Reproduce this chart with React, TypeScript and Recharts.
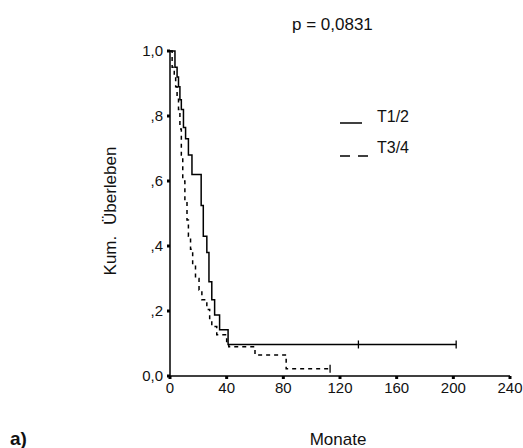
import React from 'react';
import { LineChart, Line, XAxis, YAxis } from 'recharts';

// Kaplan-Meier steps, months -> cumulative survival
const t12Months = [0, 3.5, 5, 6, 7, 8, 9.5, 11, 13, 15.5, 22, 23.5, 26, 27.5, 29.5, 31.5, 35, 41, 133, 202];
const t12Surv = [1, 0.95, 0.92, 0.89, 0.85, 0.82, 0.765, 0.73, 0.68, 0.62, 0.525, 0.43, 0.38, 0.29, 0.235, 0.188, 0.142, 0.097, 0.097, 0.097];
const t12Censored = [133, 202];

const t34Months = [0, 1.5, 3, 4, 5, 6, 7, 8, 9, 10.5, 12, 13, 14.5, 16, 18, 20.5, 22.5, 26, 28, 29.5, 33, 40, 41.5, 60, 82, 113];
const t34Surv = [1, 0.95, 0.92, 0.89, 0.86, 0.82, 0.76, 0.68, 0.6, 0.54, 0.48, 0.43, 0.39, 0.34, 0.3, 0.265, 0.235, 0.205, 0.173, 0.152, 0.127, 0.106, 0.09, 0.065, 0.022, 0.022];
const t34Censored = [113];

const xTicks = [0, 40, 80, 120, 160, 200, 240];
const yTicks = [0, 0.2, 0.4, 0.6, 0.8, 1];

const seriesNames = ['T1/2', 'T3/4'];
const pValueText = 'p = 0,0831';

const FONT = '"Liberation Sans", Arial, sans-serif';

const toRows = (months: number[], surv: number[], censored: number[]) =>
  months.map((m, i) => ({ m, s: surv[i], c: censored.includes(m) }));

const t12 = toRows(t12Months, t12Surv, t12Censored);
const t34 = toRows(t34Months, t34Surv, t34Censored);

const fmtY = (v: number) => {
  if (v === 0) return '0,0';
  if (v === 1) return '1,0';
  return ',' + Math.round(v * 10);
};

function CensorDot(props: any) {
  const { cx, cy, payload, index } = props;
  if (!payload?.c) return <g key={`d${index}`} />;
  return (
    <line key={`d${index}`} x1={cx} x2={cx} y1={cy - 4} y2={cy + 4} stroke="#000" strokeWidth={1.3} />
  );
}

export default function App() {
  const tick = { fontSize: 15, fill: '#111', fontFamily: FONT };
  return (
    <div style={{ position: 'absolute', left: 0, top: 0, width: 523, height: 448, background: '#fff' }}>
      <LineChart width={523} height={448} margin={{ top: 51, right: 13, bottom: 42, left: 110 }}>
        <XAxis
          type="number"
          dataKey="m"
          domain={[0, 240]}
          ticks={xTicks}
          height={30}
          tick={tick}
          tickSize={3}
          tickMargin={3}
          tickLine={{ stroke: '#000', strokeWidth: 3 }}
          axisLine={{ stroke: '#000', strokeWidth: 1.5 }}
          allowDataOverflow
        />
        <YAxis
          type="number"
          dataKey="s"
          domain={[0, 1]}
          ticks={yTicks}
          width={60}
          tick={tick}
          tickSize={3}
          tickMargin={4}
          tickFormatter={fmtY}
          tickLine={{ stroke: '#000', strokeWidth: 3 }}
          axisLine={{ stroke: '#000', strokeWidth: 1.5 }}
        />
        <Line
          data={t12}
          dataKey="s"
          name={seriesNames[0]}
          type="stepAfter"
          stroke="#000"
          strokeWidth={1.5}
          dot={<CensorDot />}
          activeDot={false}
          isAnimationActive={false}
        />
        <Line
          data={t34}
          dataKey="s"
          name={seriesNames[1]}
          type="stepAfter"
          stroke="#000"
          strokeWidth={1.5}
          strokeDasharray="4 4"
          dot={<CensorDot />}
          activeDot={false}
          isAnimationActive={false}
        />
      </LineChart>
      <svg width={523} height={448} style={{ position: 'absolute', left: 0, top: 0, pointerEvents: 'none' }}>
        <text x={292} y={30} fontSize={17} fontFamily={FONT} fill="#111">{pValueText}</text>
        <line x1={340} x2={362} y1={123} y2={123} stroke="#000" strokeWidth={1.5} />
        <text x={377} y={122} fontSize={16} fontFamily={FONT} fill="#111">{seriesNames[0]}</text>
        <line x1={340} x2={368} y1={156} y2={156} stroke="#000" strokeWidth={1.5} strokeDasharray="10 8" />
        <text x={377} y={153} fontSize={16} fontFamily={FONT} fill="#111">{seriesNames[1]}</text>
        <text
          x={116}
          y={211}
          fontSize={17}
          fontFamily={FONT}
          fill="#111"
          textAnchor="middle"
          transform="rotate(-90 116 211)"
          style={{ wordSpacing: 6 }}
        >
          Kum. Überleben
        </text>
        <text x={338} y={445} fontSize={17} fontFamily={FONT} fill="#111" textAnchor="middle">Monate</text>
        <text x={10} y={445} fontSize={19} fontWeight="bold" fontFamily={FONT} fill="#111">a)</text>
      </svg>
    </div>
  );
}
